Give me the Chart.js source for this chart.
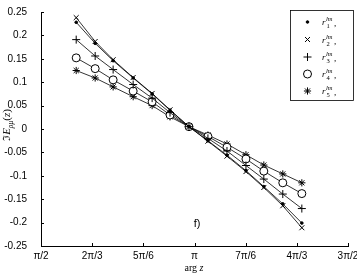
<!DOCTYPE html>
<html>
<head>
<meta charset="utf-8">
<script src="https://cdn.jsdelivr.net/npm/chart.js@4.4.0/dist/chart.umd.min.js"></script>
<style>
  html, body { margin: 0; padding: 0; background: #fff; }
  canvas { display: block; }
</style>
</head>
<body>
<canvas id="grafico_f" width="357" height="274"></canvas>
<script>
const argZ = [1.931, 2.125, 2.309, 2.514, 2.708, 2.891, 3.085, 3.279, 3.474, 3.668, 3.851, 4.045, 4.240];

const r1 = [0.228, 0.183, 0.146, 0.109, 0.075, 0.040, 0.005, -0.025, -0.056, -0.089, -0.123, -0.160, -0.201];
const r2 = [0.238, 0.187, 0.148, 0.110, 0.076, 0.041, 0.005, -0.026, -0.058, -0.091, -0.125, -0.164, -0.211];
const r3 = [0.191, 0.156, 0.127, 0.095, 0.066, 0.035, 0.005, -0.020, -0.047, -0.078, -0.107, -0.139, -0.170];
const r4 = [0.152, 0.129, 0.105, 0.081, 0.058, 0.030, 0.005, -0.016, -0.039, -0.064, -0.090, -0.115, -0.138];
const r5 = [0.125, 0.109, 0.090, 0.069, 0.050, 0.026, 0.005, -0.013, -0.032, -0.055, -0.077, -0.096, -0.115];

const xTickValues = [Math.PI / 2, 2 * Math.PI / 3, 5 * Math.PI / 6, Math.PI, 7 * Math.PI / 6, 4 * Math.PI / 3, 3 * Math.PI / 2];
const xTickLabels = ['π/2', '2π/3', '5π/6', 'π', '7π/6', '4π/3', '3π/2'];

const seriesNames = ['1', '2', '3', '4', '5'];
const seriesValues = [r1, r2, r3, r4, r5];
const seriesStyles = [
  { pointStyle: 'circle', radius: 1.3, fill: '#000' },
  { pointStyle: 'crossRot', radius: 3.5, fill: '#000' },
  { pointStyle: 'cross', radius: 4, fill: '#000' },
  { pointStyle: 'circle', radius: 4, fill: '#fff' },
  { pointStyle: 'star', radius: 3.6, fill: '#000' }
];

function pontos(valores) {
  return valores.map((v, i) => ({ x: argZ[i], y: v }));
}

// inward ticks, axis titles, legend and the panel letter
const extras = {
  id: 'extras',
  afterDraw(chart) {
    const { ctx, chartArea: a, scales: { x, y } } = chart;
    ctx.save();
    ctx.strokeStyle = '#000';
    ctx.lineWidth = 1;
    ctx.beginPath();
    x.ticks.forEach(t => {
      const px = Math.round(x.getPixelForValue(t.value)) + 0.5;
      ctx.moveTo(px, a.bottom);
      ctx.lineTo(px, a.bottom - 3);
    });
    y.ticks.forEach(t => {
      const py = Math.round(y.getPixelForValue(t.value)) + 0.5;
      ctx.moveTo(a.left, py);
      ctx.lineTo(a.left + 3, py);
    });
    ctx.stroke();

    ctx.fillStyle = '#000';
    ctx.textBaseline = 'alphabetic';

    // x title: arg z
    ctx.font = '10px "Liberation Serif"';
    const w1 = ctx.measureText('arg ').width;
    ctx.font = 'italic 10px "Liberation Serif"';
    const w2 = ctx.measureText('z').width;
    let sx = 194 - (w1 + w2) / 2;
    ctx.font = '10px "Liberation Serif"';
    ctx.fillText('arg ', sx, 271);
    ctx.font = 'italic 10px "Liberation Serif"';
    ctx.fillText('z', sx + w1, 271);

    // y title: ℑE_ρμ(z)
    ctx.save();
    ctx.translate(10, 125);
    ctx.rotate(-Math.PI / 2);
    const parts = [
      { t: 'ℑ', f: '10px "DejaVu Serif"', dy: 0 },
      { t: 'E', f: 'italic 11px "Liberation Serif"', dy: 0 },
      { t: 'ρμ', f: 'italic 7.5px "Liberation Serif"', dy: 2.5 },
      { t: '(', f: '11px "Liberation Serif"', dy: 0 },
      { t: 'z', f: 'italic 11px "Liberation Serif"', dy: 0 },
      { t: ')', f: '11px "Liberation Serif"', dy: 0 }
    ];
    let total = 0;
    parts.forEach(p => { ctx.font = p.f; p.w = ctx.measureText(p.t).width; total += p.w; });
    let cx = -total / 2;
    parts.forEach(p => { ctx.font = p.f; ctx.fillText(p.t, cx, p.dy); cx += p.w; });
    ctx.restore();

    // legend
    ctx.lineWidth = 0.8;
    ctx.strokeRect(290.5, 10.5, 63, 90);
    const rows = [22, 39.5, 57, 74, 91];
    seriesStyles.forEach((s, i) => {
      ctx.fillStyle = s.fill;
      ctx.strokeStyle = '#000';
      ctx.lineWidth = 1;
      Chart.helpers.drawPoint(ctx, { pointStyle: s.pointStyle, radius: s.radius, rotation: 0, borderWidth: 1 }, 307.5, rows[i]);
      ctx.fillStyle = '#000';
      ctx.font = 'italic 9px "Liberation Serif"';
      ctx.fillText('r', 322, rows[i] + 3);
      ctx.font = 'italic 6.5px "Liberation Serif"';
      ctx.fillText('lm', 326, rows[i] - 1);
      ctx.font = '6.5px "Liberation Serif"';
      ctx.fillText(seriesNames[i], 326.5, rows[i] + 6);
      ctx.font = '9px "Liberation Serif"';
      ctx.fillText(',', 334, rows[i] + 4);
    });

    // panel letter
    ctx.font = '11px "Liberation Sans"';
    ctx.textAlign = 'center';
    ctx.fillText('f)', 197, 227);
    ctx.restore();
  }
};

function desenharGrafico() {
  const canvas = document.getElementById('grafico_f');

  new Chart(canvas, {
    type: 'scatter',
    data: {
      datasets: seriesValues.map((valores, i) => ({
        label: 'r' + seriesNames[i],
        data: pontos(valores),
        showLine: true,
        borderColor: '#000',
        borderWidth: 0.8,
        pointStyle: seriesStyles[i].pointStyle,
        pointRadius: seriesStyles[i].radius,
        pointBackgroundColor: seriesStyles[i].fill,
        pointBorderColor: '#000',
        pointBorderWidth: 1
      }))
    },
    options: {
      responsive: false,
      animation: false,
      devicePixelRatio: 1,
      layout: { padding: { top: 4, right: 9, left: 0, bottom: 0 } },
      plugins: {
        legend: { display: false },
        tooltip: { enabled: false }
      },
      scales: {
        x: {
          type: 'linear',
          min: Math.PI / 2,
          max: 3 * Math.PI / 2,
          afterBuildTicks: scale => { scale.ticks = xTickValues.map(v => ({ value: v })); },
          afterFit: scale => { scale.height = 28; },
          ticks: {
            callback: (v, i) => xTickLabels[i],
            color: '#000',
            font: { family: 'Liberation Sans', size: 10 },
            padding: -4,
            maxRotation: 0,
            autoSkip: false
          },
          grid: { display: false },
          border: { display: true, color: '#000', width: 1 }
        },
        y: {
          min: -0.25,
          max: 0.25,
          afterFit: scale => { scale.width = 41; },
          ticks: {
            stepSize: 0.05,
            callback: v => String(+v.toFixed(2)),
            color: '#000',
            font: { family: 'Liberation Sans', size: 10 },
            padding: 6
          },
          grid: { display: false },
          border: { display: true, color: '#000', width: 1 }
        }
      }
    },
    plugins: [extras]
  });
}

desenharGrafico();
</script>
</body>
</html>
